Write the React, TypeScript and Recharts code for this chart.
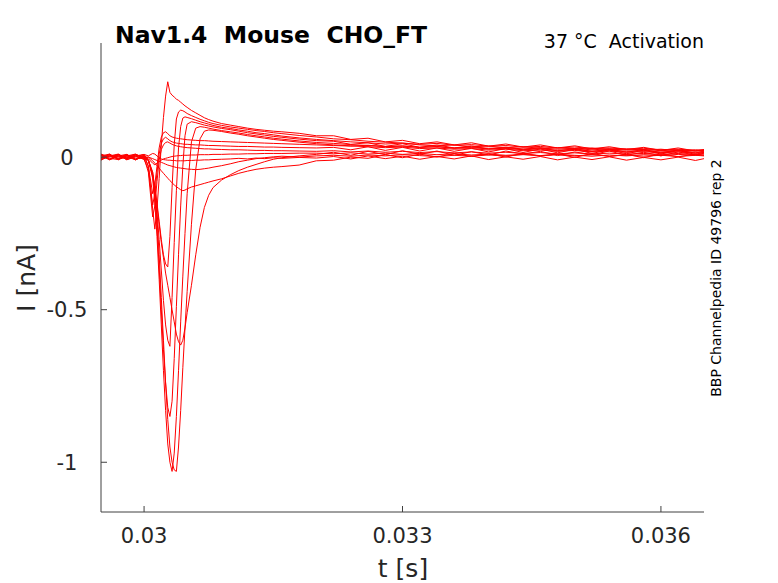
import React from "react";
import { LineChart, Line, XAxis, YAxis } from "recharts";

const W = 778;
const H = 583;
const FONT = "'DejaVu Sans', sans-serif";
const INK = "#262626";
const AXIS = "#404040";
const RED = "#ff0000";

const TITLE = "Nav1.4  Mouse  CHO_FT";
const CONDITION = "37 °C  Activation";
const SOURCE = "BBP Channelpedia ID 49796 rep 2";
const X_LABEL = "t [s]";
const Y_LABEL = "I [nA]";

const X_TICKS = [0.03, 0.033, 0.036];
const Y_TICKS = [-1, -0.5, 0];
const X_DOMAIN = [0.0295, 0.0365];
const Y_DOMAIN = [-1.163, 0.374];

// sample times in ms
const T_MS = [
  29.5, 29.6, 29.7, 29.8, 29.9, 30.0,
  30.05, 30.1, 30.125, 30.15, 30.175, 30.2, 30.225, 30.25, 30.275, 30.3, 30.325, 30.35, 30.375, 30.4, 30.425, 30.45, 30.475, 30.5,
  30.55, 30.6, 30.65, 30.7, 30.75, 30.8, 30.9, 31.0, 31.1, 31.2, 31.3, 31.4, 31.5, 31.6, 31.8, 32.0,
  32.2, 32.4, 32.6, 32.8, 33.0, 33.2, 33.4, 33.6, 33.8, 34.0, 34.2, 34.4, 34.6, 34.8, 35.0, 35.2, 35.4, 35.6, 35.8, 36.0, 36.2, 36.4, 36.5,
];

// currents in nA, one array per sweep
const SWEEP_A = [
  0.008, -0.006, 0.009, -0.005, 0.007, 0.002,
  -0.03, -0.17, -0.236, -0.17, -0.07, 0.04, 0.13, 0.2, 0.247, 0.212, 0.203, 0.197, 0.19, 0.186, 0.18, 0.174, 0.168, 0.163,
  0.153, 0.145, 0.137, 0.129, 0.123, 0.118, 0.11, 0.105, 0.1, 0.095, 0.091, 0.088, 0.085, 0.083, 0.078, 0.07,
  0.07, 0.058, 0.062, 0.05, 0.055, 0.044, 0.05, 0.04, 0.047, 0.036, 0.043, 0.033, 0.04, 0.03, 0.037, 0.027, 0.034, 0.025, 0.032, 0.022, 0.03, 0.02, 0.025,
];
const SWEEP_F = [
  -0.004, 0.009, -0.007, 0.006, -0.009, 0.004,
  -0.01, -0.06, -0.1, -0.15, -0.21, -0.27, -0.32, -0.35, -0.36, -0.26, -0.1, 0.04, 0.125, 0.148, 0.154, 0.152, 0.148, 0.143,
  0.136, 0.13, 0.124, 0.119, 0.114, 0.11, 0.104, 0.099, 0.095, 0.091, 0.087, 0.084, 0.08, 0.077, 0.071, 0.066,
  0.06, 0.057, 0.052, 0.049, 0.046, 0.042, 0.045, 0.039, 0.041, 0.036, 0.038, 0.033, 0.035, 0.03, 0.033, 0.028, 0.03, 0.026, 0.029, 0.024, 0.026, 0.022, 0.024,
];
const SWEEP_D = [
  0.006, -0.008, 0.004, 0.009, -0.006, -0.002,
  -0.01, -0.06, -0.11, -0.18, -0.27, -0.37, -0.47, -0.55, -0.6, -0.62, -0.46, -0.28, -0.11, 0.03, 0.1, 0.128, 0.132, 0.13,
  0.126, 0.121, 0.116, 0.112, 0.108, 0.104, 0.098, 0.094, 0.089, 0.085, 0.08, 0.077, 0.073, 0.069, 0.063, 0.058,
  0.054, 0.05, 0.047, 0.043, 0.046, 0.04, 0.037, 0.04, 0.034, 0.036, 0.031, 0.034, 0.029, 0.031, 0.027, 0.03, 0.025, 0.027, 0.023, 0.026, 0.021, 0.024, 0.022,
];
const SWEEP_C = [
  -0.008, 0.004, 0.01, -0.006, 0.007, -0.004,
  -0.01, -0.06, -0.13, -0.23, -0.36, -0.5, -0.63, -0.74, -0.82, -0.85, -0.8, -0.66, -0.49, -0.32, -0.16, -0.03, 0.07, 0.108,
  0.116, 0.113, 0.109, 0.105, 0.102, 0.099, 0.094, 0.09, 0.085, 0.08, 0.076, 0.072, 0.068, 0.065, 0.059, 0.054,
  0.052, 0.042, 0.047, 0.035, 0.044, 0.032, 0.04, 0.03, 0.037, 0.026, 0.033, 0.024, 0.031, 0.02, 0.028, 0.018, 0.027, 0.016, 0.025, 0.014, 0.023, 0.013, 0.02,
];
const SWEEP_P1 = [
  0.004, 0.01, -0.006, 0.002, -0.009, 0.006,
  -0.01, -0.07, -0.15, -0.26, -0.4, -0.55, -0.7, -0.83, -0.94, -1.0, -1.03, -0.97, -0.85, -0.7, -0.54, -0.39, -0.25, -0.12,
  0.05, 0.095, 0.1, 0.098, 0.095, 0.092, 0.087, 0.083, 0.079, 0.074, 0.07, 0.066, 0.062, 0.059, 0.053, 0.048,
  0.045, 0.041, 0.038, 0.035, 0.037, 0.032, 0.034, 0.029, 0.031, 0.027, 0.029, 0.024, 0.027, 0.022, 0.025, 0.02, 0.023, 0.019, 0.021, 0.017, 0.02, 0.016, 0.018,
];
const SWEEP_P2 = [
  -0.006, 0.002, 0.008, -0.009, 0.004, 0.009,
  -0.01, -0.05, -0.11, -0.2, -0.32, -0.46, -0.6, -0.74, -0.86, -0.95, -1.0, -1.025, -1.03, -0.95, -0.83, -0.69, -0.56, -0.44,
  -0.22, -0.04, 0.06, 0.085, 0.089, 0.088, 0.084, 0.079, 0.075, 0.07, 0.066, 0.062, 0.058, 0.055, 0.049, 0.044,
  0.04, 0.037, 0.034, 0.031, 0.033, 0.028, 0.03, 0.026, 0.028, 0.023, 0.026, 0.021, 0.023, 0.019, 0.022, 0.017, 0.02, 0.016, 0.018, 0.014, 0.017, 0.013, 0.015,
];
const SWEEP_E = [
  0.009, -0.004, -0.008, 0.006, 0.002, -0.006,
  -0.01, -0.05, -0.1, -0.16, -0.22, -0.28, -0.33, -0.38, -0.42, -0.46, -0.5, -0.54, -0.58, -0.605, -0.616, -0.6, -0.56, -0.51,
  -0.42, -0.32, -0.23, -0.165, -0.125, -0.1, -0.075, -0.058, -0.044, -0.033, -0.024, -0.015, -0.007, -0.002, 0.004, 0.009,
  0.016, 0.006, 0.019, 0.008, 0.021, 0.009, 0.02, 0.006, 0.018, 0.007, 0.02, 0.01, 0.019, 0.005, 0.017, 0.008, 0.02, 0.006, 0.016, 0.004, 0.017, 0.007, 0.013,
];
const SWEEP_S2 = [
  -0.002, 0.008, -0.009, 0.004, 0.01, -0.004,
  0.0, -0.012, -0.02, -0.028, -0.036, -0.045, -0.053, -0.061, -0.069, -0.077, -0.084, -0.091, -0.097, -0.102, -0.107, -0.11, -0.108, -0.104,
  -0.098, -0.094, -0.09, -0.086, -0.082, -0.078, -0.071, -0.062, -0.053, -0.046, -0.04, -0.036, -0.033, -0.031, -0.026, -0.012,
  -0.01, 0.0, -0.004, 0.008, -0.002, 0.01, 0.0, 0.012, 0.002, 0.011, 0.0, 0.013, 0.003, 0.01, -0.001, 0.012, 0.002, 0.009, -0.002, 0.011, 0.001, 0.01, 0.006,
];
const SWEEP_S1 = [
  0.006, -0.009, 0.002, -0.004, 0.008, 0.0,
  0.0, -0.005, -0.008, -0.011, -0.014, -0.017, -0.02, -0.023, -0.026, -0.028, -0.03, -0.032, -0.034, -0.035, -0.036, -0.037, -0.038, -0.039,
  -0.04, -0.041, -0.04, -0.038, -0.036, -0.033, -0.028, -0.022, -0.015, -0.01, -0.005, -0.002, 0.001, 0.003, 0.0, 0.004,
  0.006, 0.003, 0.007, 0.004, 0.008, 0.005, 0.002, 0.006, 0.003, 0.007, 0.004, 0.008, 0.005, 0.009, 0.006, 0.003, 0.007, 0.004, 0.008, 0.005, 0.009, 0.006, 0.007,
];
const SWEEP_H1 = [
  -0.009, 0.006, 0.0, 0.008, -0.006, 0.007,
  -0.03, -0.12, -0.09, -0.03, 0.03, 0.065, 0.08, 0.083, 0.077, 0.07, 0.066, 0.064, 0.062, 0.061, 0.06, 0.059, 0.058, 0.057,
  0.056, 0.055, 0.054, 0.054, 0.053, 0.052, 0.051, 0.05, 0.049, 0.048, 0.047, 0.046, 0.045, 0.044, 0.042, 0.04,
  0.038, 0.036, 0.039, 0.034, 0.036, 0.032, 0.035, 0.03, 0.033, 0.029, 0.031, 0.027, 0.03, 0.026, 0.028, 0.024, 0.027, 0.023, 0.025, 0.021, 0.024, 0.02, 0.022,
];
const SWEEP_H2 = [
  0.004, -0.008, 0.009, -0.002, 0.004, -0.008,
  -0.04, -0.157, -0.12, -0.05, 0.01, 0.045, 0.06, 0.065, 0.06, 0.054, 0.05, 0.048, 0.046, 0.045, 0.044, 0.043, 0.042, 0.042,
  0.041, 0.04, 0.04, 0.039, 0.038, 0.038, 0.037, 0.036, 0.035, 0.035, 0.034, 0.033, 0.033, 0.032, 0.031, 0.03,
  0.032, 0.024, 0.034, 0.022, 0.032, 0.02, 0.03, 0.019, 0.029, 0.017, 0.028, 0.015, 0.027, 0.014, 0.026, 0.012, 0.024, 0.011, 0.023, 0.01, 0.022, 0.009, 0.016,
];
const SWEEP_H3 = [
  -0.004, 0.009, -0.006, 0.0, 0.009, -0.002,
  -0.05, -0.196, -0.16, -0.08, -0.01, 0.025, 0.04, 0.048, 0.05, 0.046, 0.042, 0.039, 0.037, 0.035, 0.034, 0.033, 0.032, 0.031,
  0.03, 0.029, 0.028, 0.027, 0.027, 0.026, 0.025, 0.024, 0.024, 0.023, 0.022, 0.022, 0.021, 0.021, 0.02, 0.019,
  0.021, 0.017, 0.02, 0.016, 0.019, 0.015, 0.018, 0.014, 0.017, 0.013, 0.016, 0.012, 0.015, 0.011, 0.014, 0.01, 0.013, 0.01, 0.012, 0.009, 0.012, 0.008, 0.011,
];
const SWEEP_L1 = [
  0.01, 0.0, 0.006, -0.008, 0.0, 0.009,
  0.004, 0.012, 0.01, 0.004, -0.002, -0.006, -0.008, -0.009, -0.01, -0.01, -0.011, -0.011, -0.012, -0.012, -0.012, -0.012, -0.012, -0.011,
  -0.011, -0.01, -0.01, -0.009, -0.009, -0.008, -0.007, -0.006, -0.004, -0.006, -0.003, -0.005, -0.002, -0.004, -0.001, -0.003,
  0.002, -0.006, 0.004, -0.005, 0.003, -0.007, 0.002, -0.006, 0.004, -0.008, 0.001, -0.007, 0.002, -0.009, 0.0, -0.008, 0.001, -0.01, -0.001, -0.009, 0.0, -0.011, -0.005,
];
const SWEEP_L2 = [
  -0.01, 0.004, -0.004, 0.008, -0.008, 0.002,
  -0.005, -0.02, -0.025, -0.02, -0.014, -0.01, -0.006, -0.004, -0.002, 0.0, 0.002, 0.003, 0.004, 0.005, 0.005, 0.006, 0.006, 0.006,
  0.007, 0.007, 0.008, 0.008, 0.008, 0.009, 0.009, 0.01, 0.01, 0.011, 0.011, 0.012, 0.012, 0.012, 0.013, 0.013,
  0.011, 0.014, 0.01, 0.013, 0.009, 0.012, 0.008, 0.011, 0.007, 0.01, 0.006, 0.009, 0.005, 0.008, 0.004, 0.008, 0.003, 0.007, 0.003, 0.006, 0.002, 0.006, 0.004,
];

const SWEEPS = [
  SWEEP_A, SWEEP_F, SWEEP_D, SWEEP_C, SWEEP_P1, SWEEP_P2, SWEEP_E,
  SWEEP_S2, SWEEP_S1, SWEEP_H1, SWEEP_H2, SWEEP_H3, SWEEP_L1, SWEEP_L2,
];

const rows = T_MS.map((ms, i) => {
  const row: Record<string, number> = { t: ms / 1000 };
  SWEEPS.forEach((s, k) => {
    row[`s${k}`] = s[i];
  });
  return row;
});

const XTick = ({ x, y, payload }: any) => (
  <g>
    <line x1={x} x2={x} y1={y} y2={y - 6} stroke={AXIS} strokeWidth={1} />
    <text x={x} y={y + 31} textAnchor="middle" fontSize={21} fill={INK} fontFamily={FONT}>
      {String(payload.value)}
    </text>
  </g>
);

const YTick = ({ x, y, payload }: any) => (
  <g>
    <line x1={x} x2={x + 6} y1={y} y2={y} stroke={AXIS} strokeWidth={1} />
    <text x={x - 34} y={y} dy="0.36em" textAnchor="middle" fontSize={21} fill={INK} fontFamily={FONT}>
      {String(payload.value)}
    </text>
  </g>
);

export default function App() {
  return (
    <div style={{ position: "absolute", left: 0, top: 0, width: W, height: H, background: "#fff" }}>
      <LineChart
        width={W}
        height={H}
        data={rows}
        margin={{ top: 43, right: 74, left: 0, bottom: 0 }}
      >
        <XAxis
          dataKey="t"
          type="number"
          domain={X_DOMAIN}
          ticks={X_TICKS}
          interval={0}
          allowDataOverflow
          height={71}
          tickSize={0}
          tickMargin={0}
          tickLine={false}
          axisLine={{ stroke: AXIS, strokeWidth: 1 }}
          tick={XTick}
        />
        <YAxis
          type="number"
          domain={Y_DOMAIN}
          ticks={Y_TICKS}
          interval={0}
          allowDataOverflow
          width={101}
          tickSize={0}
          tickMargin={0}
          tickLine={false}
          axisLine={{ stroke: AXIS, strokeWidth: 1 }}
          tick={YTick}
        />
        {SWEEPS.map((_, k) => (
          <Line
            key={k}
            dataKey={`s${k}`}
            type="linear"
            stroke={RED}
            strokeWidth={1}
            dot={false}
            activeDot={false}
            isAnimationActive={false}
          />
        ))}
      </LineChart>
      <svg
        width={W}
        height={H}
        style={{ position: "absolute", left: 0, top: 0, pointerEvents: "none" }}
        fontFamily={FONT}
      >
        <text x={115} y={43} fontSize={23.5} fontWeight="bold" fill="#000" xmlSpace="preserve" style={{ whiteSpace: "pre" }}>
          {TITLE}
        </text>
        <text x={704} y={48} fontSize={19} textAnchor="end" fill="#000" xmlSpace="preserve" style={{ whiteSpace: "pre" }}>
          {CONDITION}
        </text>
        <text x={721} y={278} fontSize={14} textAnchor="middle" fill="#000" transform="rotate(-90 721 278)">
          {SOURCE}
        </text>
        <text x={403} y={577} fontSize={25} textAnchor="middle" fill={INK}>
          {X_LABEL}
        </text>
        <text x={35} y={278} fontSize={25} textAnchor="middle" fill={INK} transform="rotate(-90 35 278)">
          {Y_LABEL}
        </text>
      </svg>
    </div>
  );
}
